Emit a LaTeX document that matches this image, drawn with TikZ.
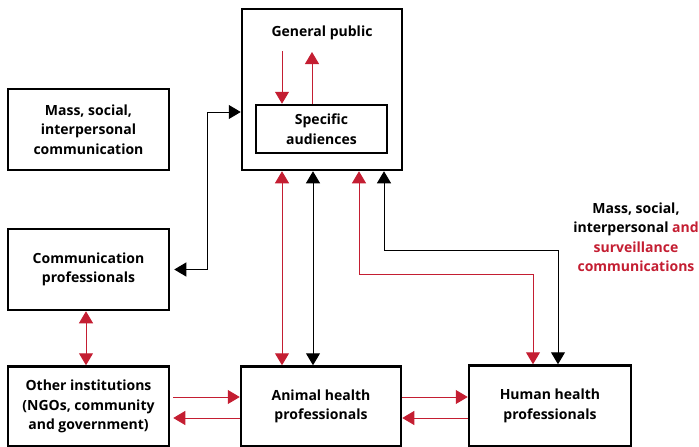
\documentclass[tikz,border=0pt]{standalone}
\usepackage{fontspec}
\setmainfont{Open Sans}
\usetikzlibrary{arrows.meta,calc}
\definecolor{myred}{RGB}{196,30,50}
\tikzset{
  box/.style={draw=black, line width=2.5pt, rectangle, inner sep=0pt, align=center, font=\bfseries\fontsize{14}{19.5}\selectfont},
  lbl/.style={inner sep=0pt, align=center, font=\bfseries\fontsize{14}{19.5}\selectfont},
  rl/.style={draw=myred, line width=1pt, arrows={-Triangle[length=12pt,width=14pt]}},
  rr/.style={draw=myred, line width=1pt, arrows={Triangle[length=12pt,width=14pt]-Triangle[length=12pt,width=14pt]}},
  bl/.style={draw=black, line width=1pt, arrows={-Triangle[length=12pt,width=14pt]}},
  bb/.style={draw=black, line width=1pt, arrows={Triangle[length=12pt,width=14pt]-Triangle[length=12pt,width=14pt]}}
}
\begin{document}
\begin{tikzpicture}[x=1pt,y=-1pt]
\useasboundingbox (0,0) rectangle (699,447);
% boxes
\node[box, minimum width=160pt, minimum height=161pt] (gp) at (322,89.5) {};
\node[lbl] (gplabel) at (322,33) {General public};
\node[box, minimum width=131pt, minimum height=48pt] (sa) at (321.5,129) {Specific\\audiences};
\node[box, minimum width=161pt, minimum height=81pt] (mass) at (88.5,129.5) {Mass, social,\\interpersonal\\communication};
\node[box, minimum width=161pt, minimum height=81pt] (comm) at (88.5,269.5) {Communication\\professionals};
\node[box, minimum width=161pt, minimum height=80pt] (other) at (88.5,406.5) {Other institutions\\(NGOs, community\\and government)};
\node[box, minimum width=160pt, minimum height=80pt] (animal) at (321,406.5) {Animal health\\professionals};
\node[box, minimum width=162pt, minimum height=81pt] (human) at (550,406) {Human health\\professionals};
\node[lbl] (note) at (636,237) {Mass, social,\\interpersonal \textcolor{myred}{and}\\\textcolor{myred}{surveillance}\\\textcolor{myred}{communications}};
% coordinates
\coordinate (d1) at (282,51);
\coordinate (u1) at (312,52);
\coordinate (cg) at (207,112);
\coordinate (xa) at (86,0);
\coordinate (xr1) at (282,0);
\coordinate (xb1) at (313,0);
\coordinate (rr2) at (359,274);
\coordinate (rr3) at (533,274);
\coordinate (bb2) at (384,250);
\coordinate (bb3) at (558,250);
\coordinate (y1) at (0,397);
\coordinate (y2) at (0,418);
% connectors inside general public
\draw[rl] (d1) -- (sa.north -| d1);
\draw[rl] (sa.north -| u1) -- (u1);
% comm <-> general public
\draw[bb] ([xshift=4pt]comm.east) -- (cg |- comm.east) -- (cg) -- (gp.west |- cg);
% comm <-> other
\draw[rr] (comm.south -| xa) -- (other.north -| xa);
% other <-> animal
\draw[rl] ([xshift=3pt]other.east |- y1) -- (animal.west |- y1);
\draw[rl] (animal.west |- y2) -- ([xshift=3pt]other.east |- y2);
% gp <-> animal
\draw[rr] (gp.south -| xr1) -- (animal.north -| xr1);
\draw[bb] (gp.south -| xb1) -- (animal.north -| xb1);
% gp <-> human
\draw[rr] (gp.south -| rr2) -- (rr2) -- (rr3) -- (human.north -| rr3);
\draw[bb] (gp.south -| bb2) -- (bb2) -- (bb3) -- (human.north -| bb3);
% animal <-> human
\draw[rl] (animal.east |- y1) -- (human.west |- y1);
\draw[rl] (human.west |- y2) -- (animal.east |- y2);
\end{tikzpicture}
\end{document}
